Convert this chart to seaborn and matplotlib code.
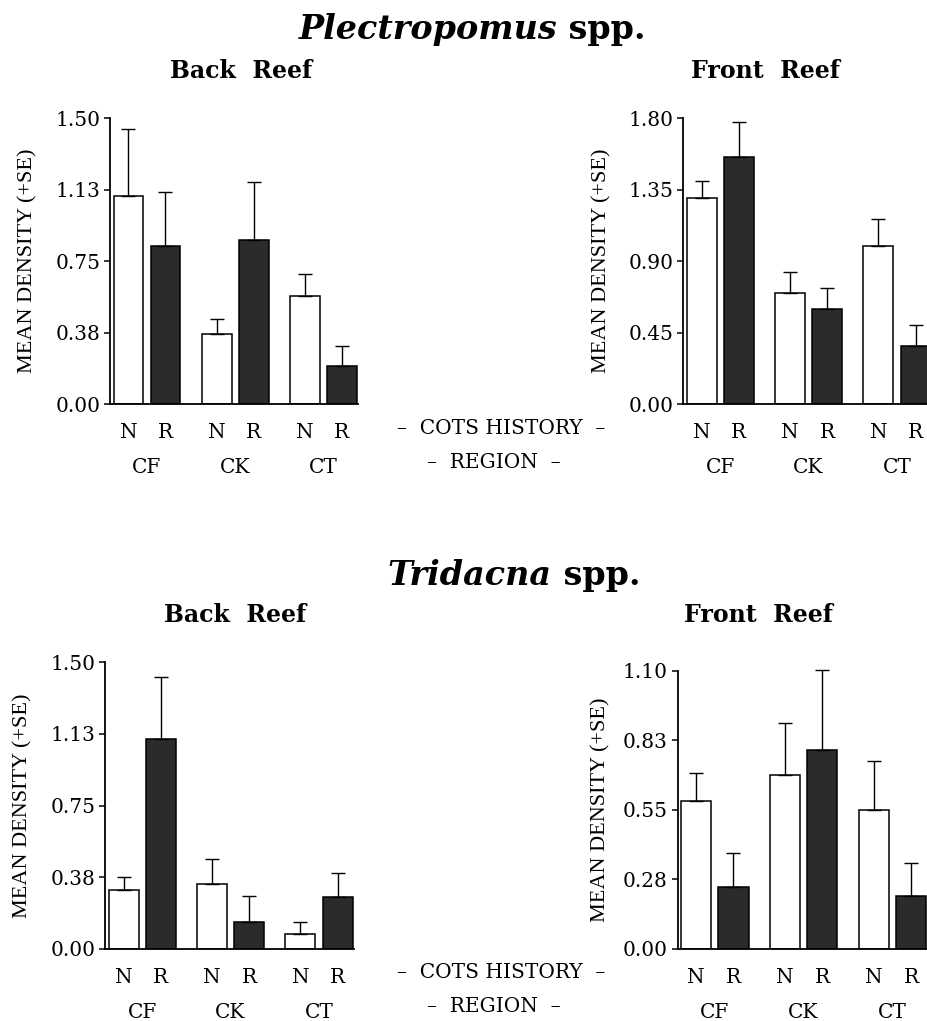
import matplotlib
matplotlib.use("Agg")
import matplotlib.pyplot as plt
import seaborn as sns
import pandas as pd
import numpy as np

# ---------------- data ----------------
regions = ["CF", "CK", "CT"]
history = ["N", "R"]

# values ordered: CF-N, CF-R, CK-N, CK-R, CT-N, CT-R
plec_back_mean = [1.09, 0.83, 0.37, 0.86, 0.565, 0.20]
plec_back_se = [0.355, 0.285, 0.078, 0.305, 0.12, 0.103]
plec_front_mean = [1.296, 1.554, 0.702, 0.599, 0.996, 0.365]
plec_front_se = [0.111, 0.225, 0.130, 0.134, 0.168, 0.131]
trid_back_mean = [0.306, 1.097, 0.339, 0.140, 0.075, 0.272]
trid_back_se = [0.068, 0.328, 0.132, 0.134, 0.065, 0.123]
trid_front_mean = [0.586, 0.244, 0.689, 0.788, 0.549, 0.209]
trid_front_se = [0.111, 0.134, 0.206, 0.315, 0.196, 0.129]

ticks_a = [0, 0.375, 0.75, 1.125, 1.5]
labels_a = ["0.00", "0.38", "0.75", "1.13", "1.50"]
ticks_b = [0, 0.45, 0.90, 1.35, 1.80]
labels_b = ["0.00", "0.45", "0.90", "1.35", "1.80"]
ticks_c = [0, 0.275, 0.55, 0.825, 1.10]
labels_c = ["0.00", "0.28", "0.55", "0.83", "1.10"]

species_titles = [("Plectropomus", " spp."), ("Tridacna", " spp.")]
panel_titles = ["Back  Reef", "Front  Reef"]
ylabel = "MEAN DENSITY (+SE)"
xlabel_top = "–  COTS HISTORY  –"
xlabel_bottom = "–  REGION  –"

# ---------------- style ----------------
sns.set_style("ticks")
plt.rcParams["font.family"] = ["DejaVu Serif"]
plt.rcParams["text.color"] = "black"
plt.rcParams["axes.labelcolor"] = "black"
plt.rcParams["xtick.color"] = "black"
plt.rcParams["ytick.color"] = "black"
plt.rcParams["axes.edgecolor"] = "black"

W, H = 927, 1021
fig = plt.figure(figsize=(W / 100, H / 100), dpi=100)

def fx(px):
    return px / W

def fy(py):
    return 1 - py / H

SERIF = "DejaVu Serif"
colors = {"N": "white", "R": "#2b2b2b"}


def make_df(means, ses):
    rows = []
    k = 0
    for r in regions:
        for h in history:
            rows.append({"region": r, "history": h, "mean": means[k], "se": ses[k]})
            k += 1
    return pd.DataFrame(rows)


def panel(rect_px, means, ses, yticks, ylabels, ylab_x):
    left, top, right, bottom = rect_px
    ax = fig.add_axes([fx(left), fy(bottom), (right - left) / W, (bottom - top) / H])
    df = make_df(means, ses)
    sns.barplot(data=df, x="region", y="mean", hue="history", order=regions,
                hue_order=history, palette=colors, edgecolor="black",
                linewidth=1.1, width=0.84, gap=0.19, errorbar=None,
                legend=False, ax=ax)
    centers, labs = [], []
    xs, ys, es = [], [], []
    for hi, cont in enumerate(ax.containers):
        h = history[hi]
        for j, bar in enumerate(cont):
            cx = bar.get_x() + bar.get_width() / 2
            centers.append(cx)
            labs.append(h)
            row = df[(df.region == regions[j]) & (df.history == h)].iloc[0]
            xs.append(cx)
            ys.append(row["mean"])
            es.append(row["se"])
    eb = ax.errorbar(xs, ys, yerr=[np.zeros(len(es)), es], fmt="none",
                     ecolor="black", elinewidth=1.0, capsize=5, capthick=1.0,
                     zorder=3)
    for art in eb.lines[1] + eb.lines[2]:
        art.set_clip_on(False)
    ax.set_xlim(-0.42, 2.39)
    ax.set_ylim(0, yticks[-1])
    ax.set_yticks(yticks, ylabels)
    ax.set_xticks(range(len(regions)), regions)
    ax.set_xticks(centers, labs, minor=True)
    ax.tick_params(axis="x", which="major", length=0, pad=39, labelsize=14.5)
    ax.tick_params(axis="x", which="minor", length=0, pad=14, labelsize=14.5)
    ax.tick_params(axis="y", length=4, width=1.1, direction="out", pad=3,
                   labelsize=14.5)
    for lab in ax.get_xticklabels(minor=True) + ax.get_xticklabels() + ax.get_yticklabels():
        lab.set_fontfamily(SERIF)
        lab.set_color("black")
    ax.set_xlabel("")
    ax.set_ylabel("")
    sns.despine(ax=ax)
    for s in ["left", "bottom"]:
        ax.spines[s].set_linewidth(1.3)
        ax.spines[s].set_color("black")
    ymid = (top + bottom) / 2
    fig.text(fx(ylab_x), fy(ymid), ylabel, rotation=90, ha="center",
             va="center", fontsize=16, family="Liberation Serif", color="black")
    return ax


panel((110, 118.3, 357.5, 404), plec_back_mean, plec_back_se, ticks_a, labels_a, 28)
panel((683, 118.3, 931.5, 404), plec_front_mean, plec_front_se, ticks_b, labels_b, 602)
panel((105, 662.3, 353.5, 948.7), trid_back_mean, trid_back_se, ticks_a, labels_a, 23)
panel((677.5, 671, 927, 948.7), trid_front_mean, trid_front_se, ticks_c, labels_c, 601)

# species titles (italic genus + upright "spp.")
renderer = fig.canvas.get_renderer()
for (genus, spp), (cx, base) in zip(species_titles, [(472, 38.5), (514, 585)]):
    t1 = fig.text(0, fy(base), genus, fontsize=24, fontweight="bold",
                  fontstyle="italic", family=SERIF, va="baseline", ha="left",
                  color="black")
    t2 = fig.text(0, fy(base), spp, fontsize=24, fontweight="bold",
                  family=SERIF, va="baseline", ha="left", color="black")
    w1 = t1.get_window_extent(renderer).width
    w2 = t2.get_window_extent(renderer).width
    x0 = cx - (w1 + w2) / 2
    t1.set_x(fx(x0))
    t2.set_x(fx(x0 + w1))

# panel titles
for (txt, cx, base) in [(panel_titles[0], 241, 78), (panel_titles[1], 765, 78),
                        (panel_titles[0], 235, 622), (panel_titles[1], 758, 622)]:
    fig.text(fx(cx), fy(base), txt, fontsize=17, fontweight="bold",
             family=SERIF, ha="center", va="baseline", color="black")

# axis-name labels in the middle
for y1, y2 in [(428, 462), (972, 1006)]:
    fig.text(fx(501), fy(y1), xlabel_top, fontsize=14.5, family=SERIF,
             ha="center", va="center", color="black")
    fig.text(fx(494), fy(y2), xlabel_bottom, fontsize=14.5, family=SERIF,
             ha="center", va="center", color="black")

fig.savefig("out.png", dpi=100, facecolor="white")
